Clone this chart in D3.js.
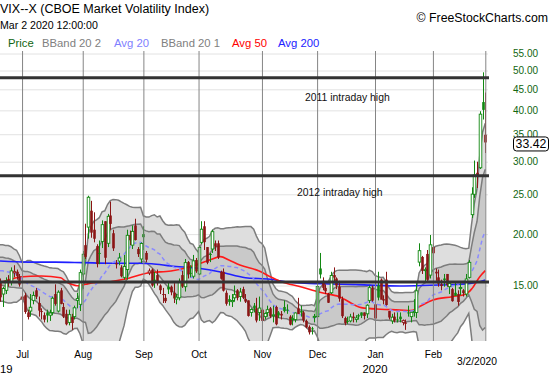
<!DOCTYPE html>
<html>
<head>
<meta charset="utf-8">
<script src="https://cdn.jsdelivr.net/npm/d3@7"></script>
<style>
body { margin: 0; background: #fff; }
svg { display: block; }
text { font-family: "Liberation Sans", Arial, sans-serif; }
</style>
</head>
<body>
<script>
// trading days, month by month
var months = ["2019-06", "2019-07", "2019-08", "2019-09", "2019-10", "2019-11", "2019-12", "2020-01", "2020-02", "2020-03"];
var monthDays = [
	[19,20,21,24,25,26,27,28],
	[1,2,3,5,8,9,10,11,12,15,16,17,18,19,22,23,24,25,26,29,30,31],
	[1,2,5,6,7,8,9,12,13,14,15,16,19,20,21,22,23,26,27,28,29,30],
	[3,4,5,6,9,10,11,12,13,16,17,18,19,20,23,24,25,26,27,30],
	[1,2,3,4,7,8,9,10,11,14,15,16,17,18,21,22,23,24,25,28,29,30,31],
	[1,4,5,6,7,8,11,12,13,14,15,18,19,20,21,22,25,26,27,29],
	[2,3,4,5,6,9,10,11,12,13,16,17,18,19,20,23,24,26,27,30,31],
	[2,3,6,7,8,9,10,13,14,15,16,17,21,22,23,24,27,28,29,30,31],
	[3,4,5,6,7,10,11,12,13,14,18,19,20,21,24,25,26,27,28],
	[2]
];
var monthNames = ["Jan","Feb","Mar","Apr","May","Jun","Jul","Aug","Sep","Oct","Nov","Dec"];

// OHLC, one line per month (Jun .. Mar)
var opens = [
	15.3, 14.3, 14.6, 15.5, 15.3, 16.1, 16.2, 15.8,
	13.9, 14.2, 12.9, 13.0, 13.8, 14.6, 13.6, 13.0, 12.7, 12.9, 12.7, 12.9, 14.3, 13.0, 14.6, 13.3, 12.8, 12.2, 12.6, 12.6, 13.8, 13.5,
	16.0, 18.8, 20.8, 22.8, 20.5, 18.7, 18.0, 19.2, 21.5, 19.0, 22.2, 20.1, 17.0, 17.2, 16.6, 15.7, 16.4, 19.9, 18.8, 21.0, 18.4, 17.4,
	20.0, 18.0, 16.1, 16.4, 15.5, 15.9, 15.0, 14.3, 14.0, 14.9, 14.9, 14.4, 13.9, 14.0, 15.9, 14.9, 17.1, 16.1, 15.8, 17.3,
	16.0, 19.1, 20.9, 18.6, 17.9, 18.4, 19.0, 19.0, 16.2, 16.2, 14.4, 13.9, 13.7, 14.0, 14.6, 14.1, 14.7, 13.9, 13.8, 12.9, 13.4, 13.2, 12.9,
	13.1, 12.6, 12.9, 13.2, 12.7, 13.3, 12.9, 12.8, 13.3, 13.1, 12.6, 12.4, 12.4, 13.2, 13.0, 12.9, 12.3, 11.9, 11.8, 12.6,
	12.6, 16.5, 15.4, 14.8, 14.3, 14.4, 15.9, 15.6, 14.9, 13.9, 12.5, 12.3, 12.3, 12.6, 12.4, 12.7, 12.9, 12.9, 12.8, 13.8, 14.8,
	13.5, 15.0, 15.5, 13.9, 15.5, 13.0, 12.3, 12.6, 12.4, 12.6, 12.2, 12.2, 12.9, 12.6, 12.9, 12.9, 17.1, 17.6, 16.3, 17.9, 15.9,
	18.6, 16.2, 15.7, 15.1, 15.6, 16.0, 14.9, 14.7, 14.4, 14.3, 14.8, 14.6, 14.3, 15.7, 22.3, 25.0, 28.2, 29.0, 41.9,
	34.9
];
var highs = [
	15.6, 14.9, 15.7, 15.9, 16.6, 16.8, 16.4, 16.0,
	14.5, 14.4, 13.1, 14.3, 14.5, 14.8, 14.1, 13.2, 12.9, 13.1, 13.1, 14.1, 15.1, 14.6, 14.8, 13.6, 13.1, 13.1, 12.8, 13.4, 14.4, 16.4,
	18.2, 21.2, 24.8, 24.1, 22.6, 18.9, 19.3, 21.6, 21.5, 22.4, 24.0, 20.5, 17.3, 18.0, 16.8, 17.8, 20.5, 20.4, 21.0, 21.8, 18.6, 19.1,
	20.9, 18.2, 16.5, 16.5, 16.2, 16.4, 15.1, 14.8, 14.3, 15.3, 15.0, 15.2, 14.3, 15.6, 16.3, 17.4, 17.2, 16.8, 17.8, 17.5,
	18.8, 21.5, 21.5, 18.6, 18.0, 20.5, 19.3, 19.3, 16.3, 16.5, 14.6, 14.2, 14.3, 15.0, 14.7, 14.8, 14.9, 14.3, 13.8, 13.2, 13.6, 14.0, 14.1,
	13.2, 12.9, 13.4, 13.3, 13.4, 13.4, 13.0, 13.0, 13.8, 13.5, 12.7, 12.7, 12.9, 14.0, 13.4, 13.0, 12.4, 12.0, 11.9, 12.8,
	15.5, 18.0, 15.7, 15.1, 14.4, 16.2, 16.6, 15.7, 15.4, 14.1, 12.6, 12.6, 12.8, 12.9, 12.7, 12.8, 12.9, 12.9, 13.5, 15.0, 15.0,
	13.7, 16.2, 15.6, 14.2, 16.2, 13.0, 12.8, 12.9, 12.9, 12.9, 12.4, 12.4, 13.4, 12.9, 13.9, 15.2, 19.0, 17.7, 16.6, 18.3, 19.9,
	19.0, 16.5, 16.4, 15.5, 16.0, 16.0, 15.2, 14.8, 15.3, 14.6, 15.2, 14.7, 16.0, 17.3, 26.0, 30.2, 30.0, 39.8, 49.5,
	44.2
];
var lows = [
	13.7, 13.3, 14.3, 14.9, 15.0, 15.7, 15.5, 14.9,
	13.1, 12.8, 12.4, 12.6, 13.5, 13.9, 12.6, 12.4, 12.2, 12.2, 12.3, 12.7, 13.4, 12.9, 13.5, 12.5, 12.0, 12.0, 11.7, 12.4, 13.2, 13.0,
	14.7, 17.4, 19.5, 19.6, 19.1, 16.6, 16.9, 18.5, 16.9, 18.6, 20.5, 18.2, 16.5, 16.8, 15.7, 15.5, 15.5, 18.8, 18.4, 19.3, 17.6, 17.0,
	18.3, 17.1, 15.9, 14.9, 14.8, 15.0, 14.3, 13.6, 13.6, 14.3, 14.2, 13.6, 13.5, 13.8, 14.8, 14.5, 15.6, 15.7, 15.6, 16.1,
	15.9, 18.9, 18.3, 16.9, 17.1, 18.0, 18.2, 17.4, 15.5, 14.5, 13.4, 13.4, 13.3, 13.7, 13.8, 13.7, 13.9, 13.6, 12.6, 12.6, 12.9, 12.2, 12.3,
	12.2, 12.4, 12.6, 12.5, 12.2, 12.0, 12.5, 12.4, 12.9, 12.8, 12.0, 12.0, 12.2, 12.8, 12.6, 12.2, 11.8, 11.4, 11.4, 12.2,
	12.6, 15.6, 14.6, 14.3, 13.6, 14.3, 15.3, 14.7, 13.7, 12.5, 12.0, 12.1, 12.2, 12.2, 12.2, 12.4, 12.5, 12.4, 12.5, 13.6, 13.7,
	12.3, 13.8, 13.9, 13.5, 13.4, 12.4, 12.1, 12.2, 12.2, 12.2, 12.0, 11.7, 12.6, 12.2, 12.6, 12.5, 16.7, 16.0, 15.3, 15.4, 15.6,
	16.8, 15.4, 14.9, 14.6, 14.9, 14.9, 14.3, 13.7, 14.2, 13.4, 14.2, 14.1, 14.1, 15.6, 21.9, 24.5, 25.9, 28.8, 38.0,
	31.5
];
var closes = [
	14.04, 14.75, 15.40, 15.26, 16.28, 16.21, 15.82, 15.08,
	14.06, 12.93, 12.57, 13.28, 14.19, 14.09, 13.03, 12.93, 12.39, 12.68, 12.86, 13.97, 13.53, 14.45, 13.53, 12.61, 12.07, 12.74, 12.16, 13.24, 13.94, 16.12,
	17.87, 17.61, 24.59, 20.17, 19.49, 16.91, 17.97, 21.09, 17.52, 22.10, 21.18, 18.47, 16.88, 17.50, 15.80, 16.68, 19.87, 19.32, 20.31, 19.35, 17.88, 18.98,
	19.66, 17.33, 16.27, 15.00, 15.27, 15.20, 14.61, 14.22, 13.74, 14.67, 14.44, 13.95, 14.05, 15.32, 14.91, 17.05, 15.96, 16.07, 17.22, 16.24,
	18.56, 20.56, 19.12, 17.04, 17.86, 20.28, 18.64, 17.57, 15.58, 14.57, 13.54, 13.68, 13.79, 14.25, 14.00, 14.46, 14.01, 13.71, 12.65, 13.11, 13.20, 12.33, 13.22,
	12.30, 12.83, 13.10, 12.62, 12.73, 12.07, 12.69, 12.68, 13.00, 13.05, 12.05, 12.46, 12.86, 12.78, 12.90, 12.34, 11.87, 11.54, 11.75, 12.62,
	14.91, 15.96, 14.80, 14.52, 13.62, 15.86, 15.68, 14.99, 13.94, 12.63, 12.14, 12.29, 12.58, 12.50, 12.51, 12.61, 12.67, 12.65, 13.43, 14.82, 13.78,
	12.47, 14.02, 13.85, 13.79, 13.45, 12.54, 12.56, 12.32, 12.39, 12.42, 12.32, 12.10, 12.85, 12.91, 12.98, 14.56, 18.23, 16.28, 16.39, 15.49, 18.84,
	17.97, 16.05, 15.15, 14.96, 15.47, 15.04, 15.18, 13.74, 14.15, 13.68, 14.83, 14.38, 15.56, 17.08, 25.03, 27.85, 27.56, 39.16, 40.11,
	33.42
];
// 19 closes before the first day, so the 20-day bands start at the left edge
var priorCloses = [14.75, 16.92, 15.85, 17.50, 17.90, 17.30, 18.71, 18.86, 16.97, 16.09, 15.93, 16.30, 15.94, 15.99, 15.91, 15.82, 15.28, 15.35, 14.33];

// longer averages at some trading-day positions
var avg50Day = [0, 4, 7, 15, 22, 24, 26, 28, 31, 34, 40, 45, 54, 62, 69, 76, 80, 83, 87, 94, 98, 102, 109, 116, 123, 131, 138, 145, 149, 152, 157, 164, 169, 171, 174, 176];
var avg50 = [15.24, 15.53, 15.73, 15.82, 15.66, 15.32, 15.10, 14.98, 15.10, 15.24, 15.32, 15.53, 16.11, 16.27, 16.67, 17.30, 17.63, 17.30, 16.82, 16.27, 15.76, 15.32, 14.90, 14.44, 14.09, 13.25, 13.13, 13.08, 13.03, 13.32, 13.83, 14.09, 14.31, 14.70, 15.76, 16.30];
var avg200Day = [0, 10, 20, 30, 40, 50, 55, 62, 72, 80, 89, 98, 105, 112, 120, 132, 145, 156, 167, 174, 176];
var avg200 = [17.2, 17.1, 17.1, 17.05, 16.99, 16.99, 16.95, 16.73, 16.52, 16.18, 15.67, 15.53, 15.27, 15.18, 15.13, 15.05, 14.96, 15.02, 15.10, 15.32, 15.47];

var levels = [48.0, 27.73, 15.3];
var levelNotes = ["2011 intraday high", "2012 intraday high"];
var yTicks = [15, 20, 25, 30, 35, 40, 45, 50, 55];

var W = 550, H = 375;
var plotRight = 488, plotTop = 51, plotBottom = 341;
var upColor = "#118811", downColor = "#8b1515";

var dates = [];
months.forEach(function(m, k) {
	monthDays[k].forEach(function(d) { dates.push(m + "-" + (d < 10 ? "0" : "") + d); });
});
var n = dates.length;
var lastDate = dates[n - 1];

var x = d3.scalePoint().domain(dates).range([0, 485.3]);
var y = d3.scaleLog().domain([15, 55]).range([285.5, 53.5]);

// first trading day of each month (the last day gets its own label)
var monthStarts = dates.filter(function(d, i) {
	return i > 0 && i < n - 1 && d.slice(0, 7) != dates[i - 1].slice(0, 7);
});

// 20-day average and bollinger bands
var all = priorCloses.concat(closes);
var bands = closes.map(function(c, i) {
	var win = all.slice(i, i + 20);
	var m = d3.mean(win);
	var s = Math.sqrt(d3.mean(win, function(v) { return (v - m) * (v - m); }));
	return {d: dates[i], m: m, u2: m + 2 * s, l2: Math.max(m - 2 * s, 1), u1: m + s, l1: Math.max(m - s, 1)};
});

var svg = d3.select("body").append("svg")
	.attr("width", W)
	.attr("height", H);

svg.append("defs").append("clipPath").attr("id", "clip")
	.append("rect").attr("x", 0).attr("y", plotTop).attr("width", plotRight + 1).attr("height", plotBottom - plotTop);

// horizontal grid
svg.append("g")
	.call(d3.axisLeft(y).tickValues(yTicks).tickSize(-plotRight).tickFormat(""))
	.call(function(g) { g.select(".domain").remove(); })
	.selectAll("line").attr("stroke", "#e2e2e2");

var plot = svg.append("g").attr("clip-path", "url(#clip)");

// bands
var area = function(lo, hi) {
	return d3.area().x(function(b) { return x(b.d); })
		.y0(function(b) { return y(b[lo]); }).y1(function(b) { return y(b[hi]); });
};
var line = function(k) {
	return d3.line().x(function(b) { return x(b.d); }).y(function(b) { return y(b[k]); });
};
plot.append("path").datum(bands).attr("d", area("l2", "u2")).attr("fill", "#dedede");
plot.append("path").datum(bands).attr("d", area("l1", "u1")).attr("fill", "#c9c9c9");
["u2", "l2", "u1", "l1"].forEach(function(k) {
	plot.append("path").datum(bands).attr("d", line(k))
		.attr("fill", "none").attr("stroke", "#7d7d7d").attr("stroke-width", 1.5);
});

// vertical grid at month starts and the last day
svg.append("g")
	.attr("transform", "translate(0," + plotBottom + ")")
	.call(d3.axisBottom(x).tickValues(monthStarts.concat([lastDate])).tickSize(-(plotBottom - plotTop)).tickFormat(""))
	.call(function(g) { g.select(".domain").remove(); })
	.selectAll("line").attr("stroke", "#858585");

// moving averages
var avgLine = function(days, vals, color, w) {
	plot.append("path").datum(days.map(function(d, i) { return [x(dates[d]), y(vals[i])]; }))
		.attr("d", d3.line().curve(d3.curveMonotoneX))
		.attr("fill", "none").attr("stroke", color).attr("stroke-width", w);
};
avgLine(avg200Day, avg200, "#1f1fff", 1.6);
avgLine(avg50Day, avg50, "#ff1a1a", 1.6);
plot.append("path").datum(bands).attr("d", line("m"))
	.attr("fill", "none").attr("stroke", "#8a8aff").attr("stroke-width", 1.5).attr("stroke-dasharray", "4,3");

// candles
var candles = plot.append("g").selectAll("g").data(d3.range(n)).join("g");
var colorOf = function(i) { return (i == 0 ? closes[i] >= opens[i] : closes[i] >= closes[i - 1]) ? upColor : downColor; };
candles.append("line")
	.attr("x1", function(i) { return Math.round(x(dates[i])) + 0.5; })
	.attr("x2", function(i) { return Math.round(x(dates[i])) + 0.5; })
	.attr("y1", function(i) { return y(highs[i]); })
	.attr("y2", function(i) { return y(lows[i]); })
	.attr("stroke", colorOf).attr("stroke-width", 1);
candles.append("rect")
	.attr("x", function(i) { return Math.round(x(dates[i])) - 0.8; })
	.attr("width", 2.6)
	.attr("y", function(i) { return y(Math.max(opens[i], closes[i])); })
	.attr("height", function(i) { return Math.max(1, y(Math.min(opens[i], closes[i])) - y(Math.max(opens[i], closes[i]))); })
	.attr("fill", function(i) { return closes[i] > opens[i] ? "#fff" : colorOf(i); })
	.attr("stroke", function(i) { return closes[i] > opens[i] ? colorOf(i) : "none"; })
	.attr("stroke-width", 0.9);

// reference levels
svg.append("g").selectAll("line").data(levels).join("line")
	.attr("x1", 0).attr("x2", plotRight + 1)
	.attr("y1", function(v) { return y(v); }).attr("y2", function(v) { return y(v); })
	.attr("stroke", "#333").attr("stroke-width", 3);
svg.append("g").selectAll("text").data(levelNotes).join("text")
	.attr("x", function(t, i) { return i == 0 ? 305 : 297; })
	.attr("y", function(t, i) { return y(levels[i]) + (i == 0 ? 23 : 20); })
	.attr("font-size", "10.4px").attr("fill", "#111")
	.text(function(t) { return t; });

// right axis
svg.append("g")
	.attr("transform", "translate(513,0)")
	.attr("font-size", "12.3px")
	.call(d3.axisRight(y).tickValues(yTicks).tickSize(0).tickPadding(0).tickFormat(d3.format(".2f")))
	.call(function(g) { g.select(".domain").remove(); })
	.selectAll("text").attr("fill", "#116611").attr("font-family", "Liberation Sans, Arial, sans-serif");

// last price box, over the 35.00 label as in the source
var lastY = y(closes[n - 1]) + 1.5;
svg.append("rect").attr("x", 513.5).attr("y", lastY - 7).attr("width", 35).attr("height", 14).attr("rx", 3)
	.attr("fill", "#fff").attr("stroke", "#000");
svg.append("text").attr("x", 531).attr("y", lastY + 4.3).attr("text-anchor", "middle")
	.attr("font-size", "12.3px").text(closes[n - 1].toFixed(2));

// bottom axis labels
svg.append("g")
	.attr("transform", "translate(0," + plotBottom + ")")
	.attr("font-size", "11.3px")
	.call(d3.axisBottom(x).tickValues(monthStarts).tickSize(0).tickPadding(10)
		.tickFormat(function(d) { return monthNames[+d.slice(5, 7) - 1]; }))
	.call(function(g) { g.select(".domain").remove(); })
	.selectAll("text").attr("fill", "#000").attr("font-family", "Liberation Sans, Arial, sans-serif");
svg.append("text").attr("x", 0).attr("y", 373).attr("font-size", "11.3px").text("19");
svg.append("text").attr("x", x(monthStarts.find(function(d) { return d.slice(0, 4) == "2020"; }))).attr("y", 373)
	.attr("text-anchor", "middle").attr("font-size", "11.3px").text("2020");
svg.append("text").attr("x", 497).attr("y", 365).attr("text-anchor", "end")
	.attr("font-size", "10.3px").text("3/2/2020");

// header
svg.append("text").attr("x", 0).attr("y", 13).attr("font-size", "12.5px").text("VIX--X (CBOE Market Volatility Index)");
svg.append("text").attr("x", 0).attr("y", 28.5).attr("font-size", "10.6px").text("Mar 2 2020 12:00:00");
svg.append("text").attr("x", 548).attr("y", 21.5).attr("text-anchor", "end").attr("font-size", "12.3px").text("\u00A9 FreeStockCharts.com");

var legend = [["Price", "#116611", 8], ["BBand 20 2", "#808080", 42], ["Avg 20", "#7f7fff", 114],
	["BBand 20 1", "#808080", 161], ["Avg 50", "#ff0000", 232], ["Avg 200", "#2222ff", 278]];
svg.append("g").selectAll("text").data(legend).join("text")
	.attr("x", function(l) { return l[2]; }).attr("y", 47)
	.attr("font-size", "11.3px").attr("fill", function(l) { return l[1]; })
	.text(function(l) { return l[0]; });
</script>
</body>
</html>
